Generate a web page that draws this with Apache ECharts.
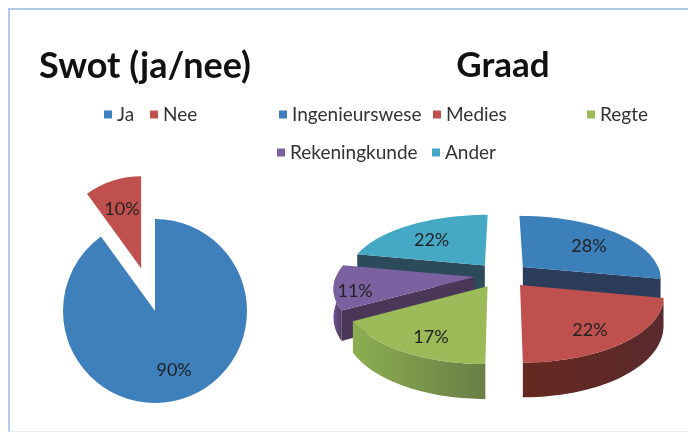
<!DOCTYPE html>
<html>
<head>
<meta charset="utf-8">
<script src="https://cdn.jsdelivr.net/npm/echarts@6/dist/echarts.min.js"></script>
<style>
  html, body { margin: 0; padding: 0; background: #fff; overflow: hidden; }
  #chart { position: absolute; left: 0; top: 0; width: 688px; height: 433px; }
  /* Excel-style chart area frame (only top/left/bottom visible in the crop) */
  #frame {
    position: absolute; left: 8px; top: 8px; width: 700px; height: 421px;
    border-top: 2px solid #b3cbe6; border-left: 2px solid #b3cbe6; border-bottom: 1px solid #e6edf6;
    pointer-events: none;
  }
</style>
</head>
<body>
<div id="chart"></div>
<div id="frame"></div>
<script>
// --- data ---
const swotNames = ['Ja', 'Nee'];
const swotValues = [90, 10];
const graadNames = ['Ingenieurswese', 'Medies', 'Regte', 'Rekeningkunde', 'Ander'];
const graadValues = [28, 22, 17, 11, 22];

// --- look ---
const FONT = 'Lato, "Open Sans", sans-serif';
const SWOT_COLORS = ['#3d80bc', '#c0504d'];
const SWOT_EXPLODED = ['Nee'];
const SWOT_PIE = { cx: 155, cy: 311, r: 92, offset: 45 };
const SWOT_LABEL_R = 0.64;   // label distance from the slice tip, in radii

// top face, radial wall, outer rim gradient (left -> right), label radius
const GRAAD_STYLE = [
  { top: '#3b7fbb', side: '#2b3d5b', rim: ['#2e4466', '#263853'], labelR: 0.7 },
  { top: '#c0504d', side: '#5c2a2c', rim: ['#66291f', '#5a2a2e'], labelR: 0.7 },
  { top: '#9bbb59', side: '#6f8b45', rim: ['#8cae50', '#697f47'], labelR: 0.7 },
  { top: '#7c61a1', side: '#4a3757', rim: ['#6d5690', '#4d3a60'], labelR: 0.85 },
  { top: '#45a9c6', side: '#2c4b5a', rim: ['#3a8ea7', '#2c4b5a'], labelR: 0.7 },
];

// pseudo-3D exploded pie (Excel style). u/v are disc coords in radius units, v>0 = towards viewer.
const G3 = { cx: 502, cy: 275, rx: 138, ry: 64, persp: 0.16, depth: 27, depthPersp: 0.25, explode: 0.2 };

// where the legend entries sit (Excel lays them out in fixed columns)
const LEGEND_SPOTS = {
  Ja: [104, 105], Nee: [150, 105],
  Ingenieurswese: [279, 105], Medies: [433, 105], Regte: [587, 105],
  Rekeningkunde: [277, 143], Ander: [432, 143],
};

function depthAt(v) {
  return G3.depth * (1 + G3.depthPersp * v);
}

function project(u, v, down) {
  const s = 1 + G3.persp * v;
  const x = G3.cx + G3.rx * u * s;
  let y = G3.cy + G3.ry * v * s;
  if (down) y += depthAt(v);
  return [x, y];
}

const graadTotal = graadValues.reduce((a, b) => a + b, 0);

function sliceAngles(i) {
  let before = 0;
  for (let j = 0; j < i; j++) before += graadValues[j];
  const a0 = before / graadTotal * 2 * Math.PI;
  const a1 = (before + graadValues[i]) / graadTotal * 2 * Math.PI;
  return [a0, a1, (a0 + a1) / 2];
}

function renderSlice(i) {
  const [a0, a1, mid] = sliceAngles(i);
  const ou = G3.explode * Math.sin(mid);
  const ov = -G3.explode * Math.cos(mid);
  const pt = (r, t, down) => project(ou + r * Math.sin(t), ov - r * Math.cos(t), down);
  const arc = (t0, t1, down) => {
    const n = Math.max(2, Math.ceil((t1 - t0) / 0.03));
    const out = [];
    for (let k = 0; k <= n; k++) out.push(pt(1, t0 + (t1 - t0) * k / n, down));
    return out;
  };
  const st = GRAAD_STYLE[i];
  const children = [];

  // flat cut walls that face the viewer
  [[a0, Math.sin(a0) < -1e-6], [a1, Math.sin(a1) > 1e-6]].forEach(([t, show]) => {
    if (!show) return;
    children.push({
      type: 'polygon',
      shape: { points: [pt(0, t, false), pt(1, t, false), pt(1, t, true), pt(0, t, true)] },
      style: { fill: st.side },
    });
  });

  // curved rim, front half only
  const f0 = Math.max(a0, Math.PI / 2), f1 = Math.min(a1, 1.5 * Math.PI);
  if (f1 > f0) {
    children.push({
      type: 'polygon',
      shape: { points: arc(f0, f1, false).concat(arc(f0, f1, true).reverse()) },
      style: {
        fill: new echarts.graphic.LinearGradient(0, 0, 1, 0, [
          { offset: 0, color: st.rim[0] }, { offset: 1, color: st.rim[1] },
        ]),
      },
    });
  }

  // top face
  children.push({
    type: 'polygon',
    shape: { points: [pt(0, a0, false)].concat(arc(a0, a1, false)) },
    style: { fill: st.top },
  });

  // Excel drops the label a little into the slice's thickness
  const lv = ov - st.labelR * Math.cos(mid);
  const lp = pt(st.labelR, mid, false);
  children.push({
    type: 'text',
    style: {
      text: Math.round(graadValues[i] / graadTotal * 100) + '%',
      x: lp[0], y: lp[1] + 0.2 * depthAt(lv), align: 'center', verticalAlign: 'middle',
      font: '18px ' + FONT, fill: '#222',
    },
  });
  return { type: 'group', children };
}

// back-to-front drawing order
const depthRank = graadValues.map((_, i) => i)
  .sort((a, b) => -Math.cos(sliceAngles(a)[2]) + Math.cos(sliceAngles(b)[2]));
const zOf = {};
depthRank.forEach((idx, k) => { zOf[idx] = 2 + k; });

const legendBase = {
  icon: 'rect', itemWidth: 8, itemHeight: 8, padding: 0, selectedMode: false,
  textStyle: { fontSize: 19, fontFamily: FONT, color: '#333' },
};

// 'inside' labels sit at r/2 from the tip; push them out along the bisector
const swotTotal = swotValues.reduce((a, b) => a + b, 0);
function swotLabelOffset(i) {
  let before = 0;
  for (let j = 0; j < i; j++) before += swotValues[j];
  const mid = (before + swotValues[i] / 2) / swotTotal * 2 * Math.PI;
  const extra = (SWOT_LABEL_R - 0.5) * SWOT_PIE.r;
  return [extra * Math.sin(mid), -extra * Math.cos(mid)];
}

const option = {
  animation: false,
  backgroundColor: '#fff',
  title: [
    { text: 'Swot (ja/nee)', left: 140, top: 43, textAlign: 'center',
      textStyle: { fontSize: 36, fontWeight: 'bold', fontFamily: FONT, color: '#111' } },
    { text: 'Graad', left: 498, top: 43, textAlign: 'center',
      textStyle: { fontSize: 35, fontWeight: 'bold', fontFamily: FONT, color: '#111' } },
  ],
  legend: swotNames.concat(graadNames).map((n) => Object.assign({}, legendBase, {
    data: [n], left: LEGEND_SPOTS[n][0], top: LEGEND_SPOTS[n][1],
  })),
  series: [
    {
      type: 'pie',
      name: 'Swot',
      center: [SWOT_PIE.cx, SWOT_PIE.cy],
      radius: SWOT_PIE.r,
      startAngle: 90,
      clockwise: true,
      selectedMode: 'multiple',
      selectedOffset: SWOT_PIE.offset,
      emphasis: { disabled: true },
      itemStyle: { borderWidth: 0 },
      label: {
        position: 'inside', formatter: '{d}%',
        fontSize: 18, fontFamily: FONT, color: '#222',
      },
      data: swotNames.map((n, i) => ({
        name: n, value: swotValues[i], selected: SWOT_EXPLODED.includes(n),
        itemStyle: { color: SWOT_COLORS[i] },
        label: { offset: swotLabelOffset(i) },
        select: {
          itemStyle: { color: SWOT_COLORS[i] },
          label: { offset: swotLabelOffset(i), color: '#222' },
        },
      })),
    },
  ].concat(graadNames.map((name, i) => ({
    type: 'custom',
    name,
    coordinateSystem: 'none',
    z: zOf[i],
    silent: true,
    itemStyle: { color: GRAAD_STYLE[i].top },
    data: [graadValues[i]],
    renderItem: () => renderSlice(i),
  }))),
};

const chart = echarts.init(document.getElementById('chart'));
chart.setOption(option);
</script>
</body>
</html>
